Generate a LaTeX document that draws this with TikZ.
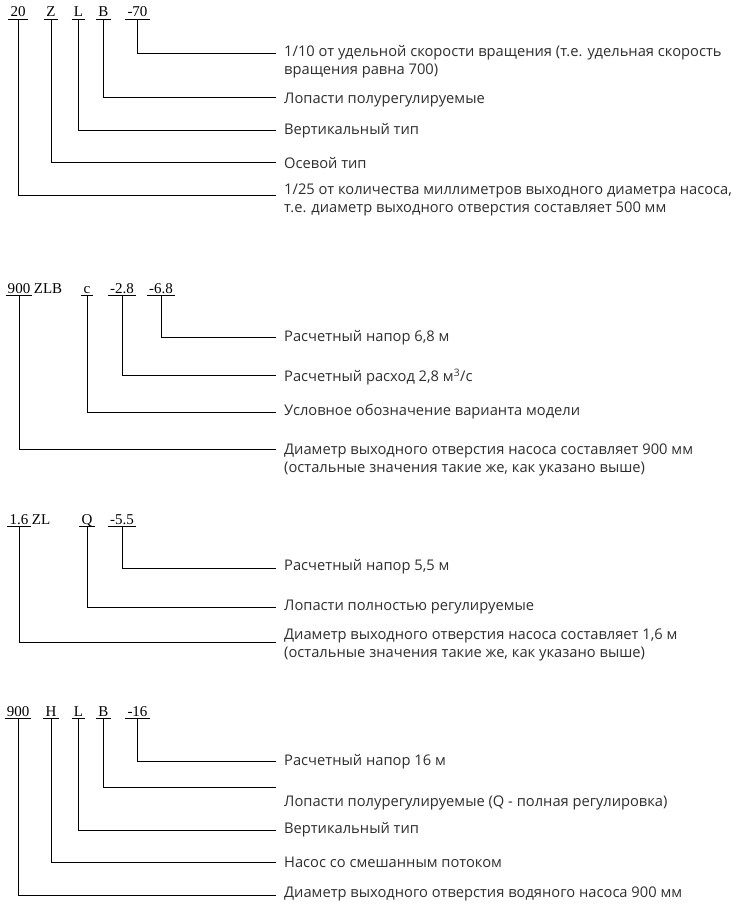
\documentclass[tikz,border=0pt]{standalone}
\usepackage{fontspec}
\setmainfont{Open Sans}
\newfontfamily\codefont{Liberation Serif}
\usetikzlibrary{positioning}
\definecolor{PumpInk}{HTML}{2E2E2E}

\tikzset{
  codetag/.style={font=\codefont\fontsize{15}{16}\selectfont,inner xsep=2pt,inner ysep=2pt,text depth=0pt,anchor=base},
  desc/.style={font=\fontsize{14.7}{18}\selectfont,text=PumpInk,anchor=west,inner sep=0pt,align=left},
  lead/.style={line width=1pt},
  uline/.style={line width=0.9pt}
}

\begin{document}
\begin{tikzpicture}[x=1pt,y=-1pt]
  \useasboundingbox (0,0) rectangle (744,912);

  % 20ZLB-70
  \node[codetag] (aN) at (18,17) {20};
  \node[codetag] (aZ) at (51,17) {Z};
  \node[codetag] (aL) at (78.5,17) {L};
  \node[codetag] (aB) at (103.5,17) {B};
  \node[codetag] (aR) at (137.5,17) {-70};
  \foreach \n in {aN,aZ,aL,aB,aR}
    \draw[uline] (\n.south west) -- (\n.south east);
  \coordinate (aE1) at (276,54);
  \coordinate (aE2) at (276,98);
  \coordinate (aE3) at (276,131);
  \coordinate (aE4) at (276,163);
  \coordinate (aE5) at (276,195);
  \draw[lead] (aR.south) |- (aE1);
  \draw[lead] (aB.south) |- (aE2);
  \draw[lead] (aL.south) |- (aE3);
  \draw[lead] (aZ.south) |- (aE4);
  \draw[lead] (aN.south) |- (aE5);
  \node[desc] (aT1) at (284,61.5) {1/10 от удельной скорости вращения (т.е. удельная скорость\\вращения равна 700)};
  \node[desc] (aT2) at (284,100) {Лопасти полурегулируемые};
  \node[desc] (aT3) at (284,131) {Вертикальный тип};
  \node[desc] (aT4) at (284,163) {Осевой тип};
  \node[desc] (aT5) at (284,200) {1/25 от количества миллиметров выходного диаметра насоса,\\т.е. диаметр выходного отверстия составляет 500 мм};

  % 900ZLBc-2.8-6.8
  \node[codetag] (bN) at (19,293) {900};
  \node[codetag,inner xsep=0pt] (bM) at (48,293) {ZLB};
  \node[codetag] (bC) at (87,293) {c};
  \node[codetag] (bQ) at (122,293) {-2.8};
  \node[codetag] (bH) at (161,293) {-6.8};
  \foreach \n in {bN,bC,bQ,bH}
    \draw[uline] (\n.south west) -- (\n.south east);
  \coordinate (bE1) at (276,337);
  \coordinate (bE2) at (276,375);
  \coordinate (bE3) at (276,412);
  \coordinate (bE4) at (276,449);
  \draw[lead] (bH.south) |- (bE1);
  \draw[lead] (bQ.south) |- (bE2);
  \draw[lead] (bC.south) |- (bE3);
  \draw[lead] (bN.south) |- (bE4);
  \node[desc] (bT1) at (284,338) {Расчетный напор 6,8 м};
  \node[desc] (bT2) at (284,377) {Расчетный расход 2,8 м\textsuperscript{3}/с};
  \node[desc] (bT3) at (284,412) {Условное обозначение варианта модели};
  \node[desc] (bT4) at (284,460) {Диаметр выходного отверстия насоса составляет 900 мм\\(остальные значения такие же, как указано выше)};

  % 1.6ZLQ-5.5
  \node[codetag] (cN) at (19,524) {1.6};
  \node[codetag,inner xsep=0pt] (cM) at (41,524) {ZL};
  \node[codetag] (cQ) at (87,524) {Q};
  \node[codetag] (cH) at (122,524) {-5.5};
  \foreach \n in {cN,cQ,cH}
    \draw[uline] (\n.south west) -- (\n.south east);
  \coordinate (cE1) at (276,568);
  \coordinate (cE2) at (276,607);
  \coordinate (cE3) at (276,642);
  \draw[lead] (cH.south) |- (cE1);
  \draw[lead] (cQ.south) |- (cE2);
  \draw[lead] (cN.south) |- (cE3);
  \node[desc] (cT1) at (284,567) {Расчетный напор 5,5 м};
  \node[desc] (cT2) at (284,607) {Лопасти полностью регулируемые};
  \node[desc] (cT3) at (284,645) {Диаметр выходного отверстия насоса составляет 1,6 м\\(остальные значения такие же, как указано выше)};

  % 900HLB-16
  \node[codetag] (dN) at (18,716) {900};
  \node[codetag] (dH) at (51,716) {H};
  \node[codetag] (dL) at (78.5,716) {L};
  \node[codetag] (dB) at (103.5,716) {B};
  \node[codetag] (dR) at (137.5,716) {-16};
  \foreach \n in {dN,dH,dL,dB,dR}
    \draw[uline] (\n.south west) -- (\n.south east);
  \coordinate (dE1) at (276,761);
  \coordinate (dE2) at (276,787);
  \coordinate (dE3) at (276,830);
  \coordinate (dE4) at (276,862);
  \coordinate (dE5) at (276,895);
  \draw[lead] (dR.south) |- (dE1);
  \draw[lead] (dB.south) |- (dE2);
  \draw[lead] (dL.south) |- (dE3);
  \draw[lead] (dH.south) |- (dE4);
  \draw[lead] (dN.south) |- (dE5);
  \node[desc] (dT1) at (284,762) {Расчетный напор 16 м};
  \node[desc] (dT2) at (284,803) {Лопасти полурегулируемые (Q - полная регулировка)};
  \node[desc] (dT3) at (284,830) {Вертикальный тип};
  \node[desc] (dT4) at (284,862) {Насос со смешанным потоком};
  \node[desc] (dT5) at (284,894) {Диаметр выходного отверстия водяного насоса 900 мм};
\end{tikzpicture}
\end{document}
